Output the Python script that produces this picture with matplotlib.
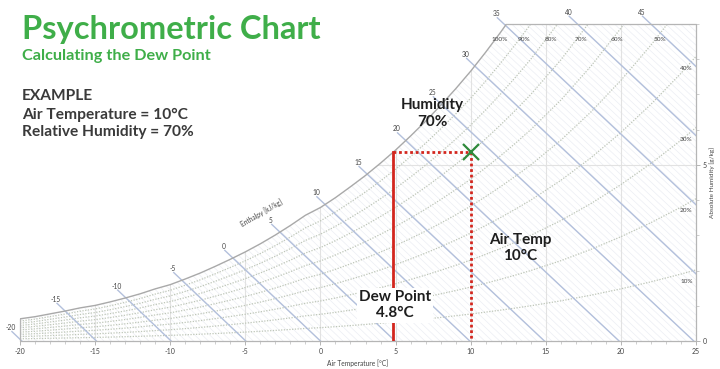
import numpy as np
import matplotlib
matplotlib.use("Agg")
import matplotlib.pyplot as plt
from matplotlib.patches import Polygon

plt.rcParams['font.family'] = ['Lato', 'DejaVu Sans']

# saturation humidity ratio (g/kg) for each whole degree from -20 to 25 C
temps = np.arange(-20, 26)
sat_g = [0.63, 0.69, 0.77, 0.85, 0.94, 1.01, 1.11, 1.22, 1.34, 1.48,
         1.60, 1.76, 1.93, 2.12, 2.32, 2.53, 2.76, 3.01, 3.28, 3.57,
         3.79, 4.07, 4.38, 4.70, 5.05, 5.42, 5.82, 6.24, 6.69, 7.16,
         7.66, 8.20, 8.77, 9.37, 10.0, 10.7, 11.4, 12.2, 13.0, 13.9,
         14.8, 15.8, 16.8, 17.9, 19.0, 20.2]
rh_levels = [10, 20, 30, 40, 50, 60, 70, 80, 90]
rh_top_labels = [100, 90, 80, 70, 60, 50]
rh_side_labels = [40, 30, 20, 10]
enthalpy_major = np.arange(-20, 50, 5)
enthalpy_minor = np.arange(-20, 50, 0.5)
x_ticks = np.arange(-20, 30, 5)
top_w = 9.0

# the example
air_temp = 10
rel_hum = 70
dew_point = 4.8

sat = np.array(sat_g)
sat_at = lambda t: np.interp(t, temps, sat)
point_w = rel_hum / 100 * sat_at(air_temp)


def t_of(h, w):
    return (h - 2.501 * w) / (1.006 + 0.00186 * w)


grey_txt = '#444444'
blue = '#b3c0dc'
red = '#d3261e'
green = '#3fae49'

fig = plt.figure(figsize=(7.2, 3.69), dpi=100)
ax = fig.add_axes([20 / 720, 28 / 369, 676 / 720, 317 / 369])
ax.set_xlim(-20, 25)
ax.set_ylim(0, top_w)
for s in ax.spines.values():
    s.set_visible(False)

# chart outline (saturation curve on the upper left)
t_top = np.interp(top_w, sat, temps)
keep = temps < t_top
outline = [(-20, 0)] + list(zip(temps[keep], sat[keep])) + [(t_top, top_w), (25, top_w), (25, 0)]
clip = Polygon(outline, closed=True, facecolor='none', edgecolor='none', transform=ax.transData)
ax.add_patch(clip)

# faint hatch
ww = np.array([0, top_w + 0.5])
for h in enthalpy_minor:
    ln, = ax.plot(t_of(h, ww), ww, color='#eceef4', lw=0.5, zorder=1)
    ln.set_clip_path(clip)

# grid
for t in x_ticks[1:-1]:
    ln, = ax.plot([t, t], [0, top_w], color='#e2e2e2', lw=0.8, zorder=1.5)
    ln.set_clip_path(clip)
ln, = ax.plot([-20, 25], [5, 5], color='#e2e2e2', lw=0.8, zorder=1.5)
ln.set_clip_path(clip)

# relative humidity curves
for rh in rh_levels:
    ln, = ax.plot(temps, rh / 100 * sat, color='#bec6b8', lw=0.9, ls=(0, (1, 1.2)), zorder=2)
    ln.set_clip_path(clip)
ax.plot(temps[keep].tolist() + [t_top], sat[keep].tolist() + [top_w], color='#a9a9a9', lw=1.0, zorder=3)
ax.plot([t_top, 25, 25, -20, -20], [top_w, top_w, 0, 0, sat[0]], color='#b5b5b5', lw=0.9,
        zorder=3, clip_on=False)

# enthalpy lines with labels
wgrid = np.linspace(0, top_w, 3000)
for h in enthalpy_major:
    tt = t_of(h, wgrid)
    inside = (tt >= -20.001) & (tt <= 25) & (wgrid <= sat_at(tt))
    w0, w1 = wgrid[inside].min(), wgrid[inside].max()
    wl = np.array([w0, w1 + 0.22])
    ax.plot(t_of(h, wl), wl, color=blue, lw=1.0, zorder=2.5, clip_on=False)
    ax.annotate(str(h), (t_of(h, w1), w1), xytext=(-6.5, 8.5), textcoords='offset points',
                ha='center', va='center', fontsize=4.8, color=grey_txt, annotation_clip=False)

# rh labels
for rh in rh_top_labels:
    t_hit = np.interp(top_w, rh / 100 * sat, temps)
    ax.annotate(f'{rh}%', (t_hit, top_w), xytext=(-5, -11), textcoords='offset points',
                ha='center', va='center', fontsize=4.6, color=grey_txt)
for rh in rh_side_labels:
    ax.annotate(f'{rh}%', (25, rh / 100 * sat[-1]), xytext=(-7, -8.5), textcoords='offset points',
                ha='center', va='center', fontsize=4.6, color=grey_txt)

# axes ticks
ax.set_xticks(x_ticks)
ax.set_xticks(np.arange(-20, 26, 1), minor=True)
ax.set_xticklabels([str(t) for t in x_ticks])
ax.yaxis.tick_right()
ax.set_yticks([0, 5])
ax.set_yticks(np.arange(0, 10, 1), minor=True)
ax.tick_params(axis='both', which='major', length=3, width=0.6, color='#aaaaaa',
               labelsize=5, labelcolor=grey_txt, pad=2)
ax.tick_params(axis='both', which='minor', length=2, width=0.5, color='#bbbbbb')
ax.set_xlabel('Air Temperature [°C]', fontsize=4.8, color=grey_txt, labelpad=3)
ax.yaxis.set_label_position('right')
ax.set_ylabel('Absolute Humidity [g/kg]', fontsize=4.6, color=grey_txt, rotation=90, labelpad=1.5)
ax.text(-3.9, 3.64, 'Enthalpy [kJ/kg]', fontsize=4.8, color=grey_txt, rotation=30,
        ha='center', va='center')

# dew point reading
ax.plot([dew_point, dew_point], [0, point_w], color=red, lw=2, zorder=5)
ax.plot([dew_point, air_temp], [point_w, point_w], color=red, lw=2, ls=(0, (1, 1)), zorder=5)
ax.plot([air_temp, air_temp], [point_w, 0], color=red, lw=2, ls=(0, (1, 1)), zorder=5)
ax.plot([air_temp], [point_w], marker='x', color='#2f8a3b', ms=12, mew=1.6, zorder=6)

bold = dict(fontsize=11, fontweight='bold', color='#1e1e1e', ha='center', va='center',
            linespacing=1.25)
ax.text(dew_point + 0.15, 1.02, 'Dew Point\n4.8°C', zorder=7,
        bbox=dict(facecolor='white', edgecolor='none', pad=1.5), **bold)
ax.text(7.45, 6.45, 'Humidity\n70%', zorder=7, **bold)
ax.text(13.3, 2.64, 'Air Temp\n10°C', zorder=7, **bold)

# heading
fig.text(22 / 720, 1 - 39 / 369, 'Psychrometric Chart', fontsize=23.5, fontweight='bold',
         color=green, va='baseline')
fig.text(22 / 720, 1 - 60 / 369, 'Calculating the Dew Point', fontsize=11.7, fontweight='bold',
         color=green, va='baseline')
for txt, yb in [('EXAMPLE', 100), ('Air Temperature = 10°C', 119), ('Relative Humidity = 70%', 136)]:
    fig.text(22 / 720, 1 - yb / 369, txt, fontsize=11.2, fontweight='bold', color='#3a3a3a',
             va='baseline')

fig.savefig('out.png', dpi=100)
